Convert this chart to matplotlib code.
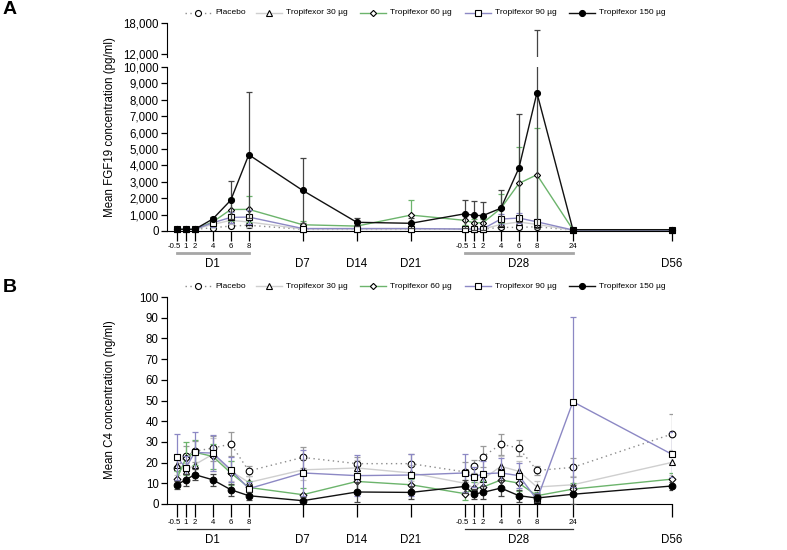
import matplotlib
matplotlib.use('Agg')
import matplotlib.pyplot as plt
from matplotlib.lines import Line2D
from matplotlib.transforms import blended_transform_factory
from matplotlib.ticker import FuncFormatter

plt.rcParams['font.family'] = ['Liberation Sans', 'DejaVu Sans']

# ---------------- data ----------------
# sampling points (position on the compressed time axis) and their tick labels
x_pos = [0, 1, 2, 4, 6, 8, 14, 20, 26, 32, 33, 34, 36, 38, 40, 44, 55]
hour_labels = ['-0.5', '1', '2', '4', '6', '8', '', '', '',
               '-0.5', '1', '2', '4', '6', '8', '24', '']
day_labels = ['D1', 'D7', 'D14', 'D21', 'D28', 'D56']
day_label_pos = [4, 14, 20, 26, 38, 55]
day_bar_ranges = [(0, 8), (32, 44)]

series_names = ['Placebo', 'Tropifexor 30 \u00b5g', 'Tropifexor 60 \u00b5g',
                'Tropifexor 90 \u00b5g', 'Tropifexor 150 \u00b5g']

# FGF19 (pg/ml) means and SD
fgf_placebo = [100, 100, 100, 200, 300, 350, 100, 100, 100, 120, 120, 120, 220, 220, 260, 50, 50]
fgf_30 = [100, 100, 100, 400, 650, 550, 120, 120, 120, 120, 120, 120, 400, 550, 400, 50, 50]
fgf_60 = [100, 100, 100, 550, 1310, 1320, 380, 300, 970, 650, 500, 500, 1380, 2900, 3430, 80, 80]
fgf_90 = [100, 100, 100, 500, 830, 850, 150, 150, 150, 120, 120, 130, 730, 790, 560, 60, 60]
fgf_150 = [100, 100, 100, 730, 1880, 4650, 2470, 530, 470, 1050, 950, 940, 1390, 3840, 8420, 80, 80]

fgf_placebo_sd = [20, 20, 20, 80, 100, 150, 30, 30, 30, 20, 20, 20, 80, 80, 100, 20, 20]
fgf_30_sd = [20, 20, 20, 150, 250, 300, 50, 50, 50, 20, 20, 20, 150, 200, 200, 20, 20]
fgf_60_sd = [20, 20, 20, 300, 700, 800, 200, 200, 890, 300, 250, 250, 880, 2200, 2860, 20, 20]
fgf_90_sd = [20, 20, 20, 250, 350, 400, 50, 50, 50, 30, 30, 30, 300, 300, 200, 20, 20]
fgf_150_sd = [30, 30, 30, 150, 1170, 3850, 1970, 250, 300, 850, 880, 850, 1100, 3270, 8230, 20, 20]

# C4 (ng/ml) means and SD
c4_placebo = [17.5, 23, 25.5, 27, 29, 16, 22.5, 19.5, 19.5, 15.5, 18.2, 22.8, 28.9, 27, 16.2, 17.7, 33.8]
c4_30 = [19, 16, 19, 24, 16, 10.4, 16.5, 17.4, 15, 10, 7.7, 12, 18.2, 15.8, 8.2, 9.3, 20.1]
c4_60 = [12, 22, 25, 23, 15, 8, 4.5, 10.9, 9.3, 5, 7.5, 8.2, 11.6, 10.1, 4, 7.2, 12]
c4_90 = [22.7, 17.4, 24.9, 24.6, 16.6, 7.4, 15, 13.7, 14, 15, 13, 14.6, 15, 13.7, 2.1, 49.4, 24]
c4_150 = [9.3, 11.7, 14.2, 11.7, 6.9, 4, 1.6, 5.8, 5.6, 8.5, 4.8, 5.6, 7.7, 4, 2.9, 4.7, 8.7]

c4_placebo_sd = [6, 5, 5, 6, 5.7, 2.5, 5, 3, 4.5, 5, 3, 5, 5, 3.7, 2, 4.5, 9.8]
c4_30_sd = [5, 4, 6, 8, 5, 3, 5, 4, 4, 4, 3, 4, 5, 5, 3, 4, 6]
c4_60_sd = [4, 8, 6, 6, 6, 3, 3, 4, 3, 3, 3, 3, 4, 4, 2, 3, 3]
c4_90_sd = [11, 6, 10, 8.5, 6, 3, 11, 10, 10, 9, 5, 6, 7, 6, 3, 41, 11]
c4_150_sd = [2, 3, 2.5, 3, 3, 2, 2, 5, 3, 3, 2.5, 3, 4, 3, 2, 4.5, 2]

# ---------------- styles ----------------
line_colors = ['#8c8c8c', '#cfcfcf', '#6cb46c', '#8c88c4', '#111111']
err_colors = ['#9a9a9a', '#c4c4c4', '#6cb46c', '#8c88c4', '#444444']
markers = ['o', '^', 'D', 's', 'o']
msizes = [4.8, 5.0, 3.5, 4.6, 4.8]
mfaces = ['white', 'white', 'white', 'white', 'black']
lstyles = [(0, (1, 2.5)), '-', '-', '-', '-']

W, H = 787, 550
fig = plt.figure(figsize=(W / 100, H / 100), dpi=100)


def fax(left_px, top_px, right_px, bottom_px):
    return fig.add_axes([left_px / W, 1 - bottom_px / H,
                         (right_px - left_px) / W, (bottom_px - top_px) / H])


XL, XR = 167, 672
xmin = -1.08
xmax = 55


def draw_series(ax, means, sds, scale, clip_markers=True):
    for i in range(5):
        ax.errorbar(x_pos, means[i], yerr=sds[i], fmt='none', ecolor=err_colors[i],
                    elinewidth=0.9, capsize=2.0, capthick=0.9, zorder=2 + i)
        ax.plot(x_pos, means[i], color=line_colors[i], linestyle=lstyles[i], linewidth=1.0,
                marker=markers[i], markersize=msizes[i] * scale, markerfacecolor=mfaces[i],
                markeredgecolor='black', markeredgewidth=0.8, zorder=3 + i,
                clip_on=clip_markers)


def style_xaxis(ax, hour_y, bar_y, day_y, bar_color, bar_lw, tick_len):
    ax.set_xlim(xmin, xmax)
    ax.set_xticks(x_pos)
    ax.set_xticklabels([])
    ax.tick_params(axis='x', direction='out', length=tick_len, width=0.9, pad=2)
    ax.spines['top'].set_visible(False)
    ax.spines['right'].set_visible(False)
    tr = blended_transform_factory(ax.transData, fig.transFigure)
    for xp, lab in zip(x_pos, hour_labels):
        if lab:
            ax.text(xp - (0.25 if lab == '-0.5' else 0), 1 - hour_y / H, lab,
                    transform=tr, ha='center', va='center', fontsize=5.6)
    for (a, b) in day_bar_ranges:
        ax.add_line(Line2D([a, b], [1 - bar_y / H] * 2, transform=tr, color=bar_color,
                           linewidth=bar_lw, clip_on=False))
    for xp, lab in zip(day_label_pos, day_labels):
        ax.text(xp, 1 - day_y / H, lab, transform=tr, ha='center', va='center',
                fontsize=8.3)


def legend_row(y_px):
    starts = [185, 256, 360, 465, 569]
    hl = 26
    for i in range(5):
        x0 = starts[i]
        fig.add_artist(Line2D([x0 / W, (x0 + hl) / W], [1 - y_px / H] * 2,
                              color=line_colors[i], linestyle=lstyles[i], linewidth=1.0))
        fig.add_artist(Line2D([(x0 + hl / 2) / W], [1 - y_px / H], marker=markers[i],
                              markersize=msizes[i] * 0.9, markerfacecolor=mfaces[i],
                              markeredgecolor='black', markeredgewidth=0.8,
                              linestyle='none'))
        fig.text((x0 + hl + 4) / W, 1 - y_px / H, series_names[i], fontsize=6.0,
                 ha='left', va='center')


comma = FuncFormatter(lambda v, p: f'{int(v):,}')

# ---------------- panel A (broken y axis) ----------------
fgf_means = [fgf_placebo, fgf_30, fgf_60, fgf_90, fgf_150]
fgf_sds = [fgf_placebo_sd, fgf_30_sd, fgf_60_sd, fgf_90_sd, fgf_150_sd]

axA = fax(XL, 67, XR, 231)
draw_series(axA, fgf_means, fgf_sds, 0.9, clip_markers=False)
axA.set_ylim(0, 10000)
axA.set_yticks(range(0, 10001, 1000))
axA.yaxis.set_major_formatter(comma)
axA.tick_params(axis='y', direction='out', length=4, width=0.9, labelsize=8.3, pad=2)
style_xaxis(axA, 246, 253, 264, '#a6a6a6', 2.0, 7)

axA2 = fax(XL, 23, XR, 57)
draw_series(axA2, fgf_means, fgf_sds, 0.9, clip_markers=True)
axA2.set_ylim(11400, 18000)
axA2.set_xlim(xmin, xmax)
axA2.set_yticks([12000, 18000])
axA2.yaxis.set_major_formatter(comma)
axA2.tick_params(axis='y', direction='out', length=4, width=0.9, labelsize=8.3, pad=2)
axA2.set_xticks([])
for s in ['top', 'right', 'bottom']:
    axA2.spines[s].set_visible(False)

fig.text(110 / W, 1 - 127 / H, 'Mean FGF19 concentration (pg/ml)', rotation=90,
         ha='center', va='center', fontsize=8.3)
legend_row(13)
fig.text(3 / W, 1 - 10 / H, 'A', fontsize=14, fontweight='bold', ha='left', va='center')

# ---------------- panel B ----------------
c4_means = [c4_placebo, c4_30, c4_60, c4_90, c4_150]
c4_sds = [c4_placebo_sd, c4_30_sd, c4_60_sd, c4_90_sd, c4_150_sd]

axB = fax(XL, 297, XR, 504)
draw_series(axB, c4_means, c4_sds, 1.0, clip_markers=False)
axB.set_ylim(0, 100)
axB.set_yticks(range(0, 101, 10))
axB.tick_params(axis='y', direction='out', length=4, width=0.9, labelsize=8.3, pad=2)
style_xaxis(axB, 522, 529, 540, '#333333', 0.9, 9)

fig.text(110 / W, 1 - 400 / H, 'Mean C4 concentration (ng/ml)', rotation=90,
         ha='center', va='center', fontsize=8.3)
legend_row(286)
fig.text(3 / W, 1 - 287 / H, 'B', fontsize=14, fontweight='bold', ha='left', va='center')

fig.savefig('out.png', dpi=100)
